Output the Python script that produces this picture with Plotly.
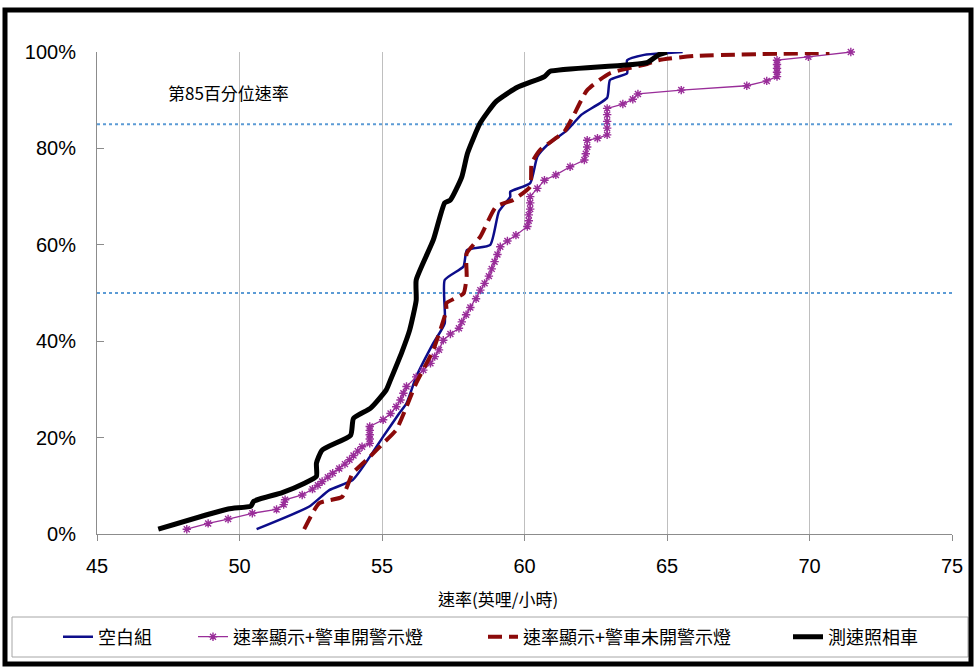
import plotly.graph_objects as go

# ---- data (speed mph, cumulative %) ----
blank_x = [50.6, 52.45, 53.15, 53.97, 54.57, 55.04, 55.6, 55.86, 56.2, 56.8, 57.2, 57.2, 57.86, 57.98,
           58.8, 59.1, 59.5, 59.5, 60.2, 60.45, 60.8, 61.5, 62.0, 62.9, 63.0, 63.6, 63.6, 64.2, 65.55]
blank_y = [1, 5.7, 9.1, 11.2, 16, 20.2, 25, 27.1, 32.6, 39.6, 43.7, 52.7, 55.5, 58.9,
           60, 66.9, 70, 71, 72.8, 78.3, 80.7, 83.8, 87, 90.5, 94.2, 95.6, 98.3, 99.4, 100]

lighton_x = [48.15, 48.9, 49.6, 50.45, 51.3, 51.55, 51.6, 52.2, 52.56, 52.75, 52.9, 53.1, 53.27, 53.5,
             53.7, 53.86, 54.0, 54.15, 54.3, 54.57, 54.57, 54.57, 54.57, 54.57, 55.04, 55.3, 55.5,
             55.65, 55.75, 55.86, 56.2, 56.45, 56.7, 56.85, 57.0, 57.15, 57.4, 57.7, 57.8, 57.95,
             58.1, 58.3, 58.45, 58.6, 58.75, 58.85, 58.95, 59.05, 59.15, 59.4, 59.7, 60.1, 60.15,
             60.15, 60.2, 60.2, 60.2, 60.45, 60.7, 61.1, 61.6, 62.1, 62.15, 62.2, 62.2, 62.56, 62.9,
             62.9, 62.9, 62.9, 62.9, 63.45, 63.8, 63.98, 65.5, 67.8, 68.5, 68.86, 68.86, 68.86,
             68.86, 68.86, 69.96, 71.45]
lighton_y = [1, 2.2, 3.1, 4.3, 5.1, 6.1, 7.1, 8.1, 9.3, 10.1, 10.9, 11.8, 12.6, 13.6,
             14.5, 15.4, 16.3, 17.2, 18.1, 18.8, 19.7, 20.6, 21.5, 22.3, 23.7, 25.0, 26.4,
             27.8, 29.2, 30.6, 32.6, 34.0, 35.4, 36.8, 38.2, 40.2, 41.5, 42.7, 44.0, 45.5,
             47.0, 48.8, 50.6, 52.0, 53.5, 55.0, 56.5, 58.0, 59.6, 60.8, 62.0, 63.8, 65.0,
             66.2, 67.4, 68.7, 70.0, 71.7, 73.4, 74.5, 76.2, 77.6, 78.9, 80.3, 81.7, 82.1, 82.8,
             84.2, 85.6, 87.0, 88.3, 89.2, 90.2, 91.3, 92.1, 93.0, 94.0, 94.9, 95.8, 96.6,
             97.4, 98.3, 99.0, 100]

lightoff_x = [52.27, 52.8, 53.6, 53.97, 54.57, 55.04, 55.5, 55.86, 56.2, 56.8, 57.26, 57.26, 57.86,
              57.97, 57.97, 58.45, 59.0, 59.6, 60.2, 60.25, 60.55, 61.4, 61.7, 62.2, 63.0, 64.3,
              64.7, 66.0, 70.7]
lightoff_y = [1, 6.4, 7.7, 12.6, 16, 18.8, 21.6, 26.4, 31.3, 38.2, 46.5, 47.9, 49.9,
              53.4, 58.2, 61.7, 67.9, 69.3, 72.1, 76.9, 79.7, 83.5, 86.6, 92.1, 95.6, 97.5,
              98.3, 99.2, 99.8]

camera_x = [47.15, 49.6, 50.4, 50.5, 51.5, 52.3, 52.7, 52.7, 52.9, 53.9, 54.0, 54.6, 55.15, 55.3,
            55.7, 55.97, 56.2, 56.2, 56.8, 57.2, 57.4, 57.8, 58.0, 58.45, 59.0, 59.75, 60.7, 60.9,
            64.3, 64.7, 65.0]
camera_y = [1, 5.2, 5.8, 6.8, 8.6, 10.6, 12, 14.7, 17.4, 20.5, 24, 26.1, 29.9, 32,
            37.8, 42.3, 48.5, 52.7, 61, 68.7, 69.3, 74.1, 79, 85.3, 89.7, 92.7, 94.9, 96,
            97.8, 99.4, 100]

series_names = ["空白組", "速率顯示+警車開警示燈", "速率顯示+警車未開警示燈", "測速照相車"]
ref_levels = [85, 50]
x_ticks = [45, 50, 55, 60, 65, 70, 75]
y_ticks = [0, 20, 40, 60, 80, 100]
y_ticktext = ["0%", "20%", "40%", "60%", "80%", "100%"]

CJK = "Noto Sans CJK TC"
LAT = "Liberation Sans"

fig = go.Figure()
fig.add_trace(go.Scatter(x=blank_x, y=blank_y, name=series_names[0], mode="lines",
                         line=dict(color="#0D0D8A", width=2.5, shape="spline", smoothing=0.5),
                         cliponaxis=False, legendwidth=90))
fig.add_trace(go.Scatter(x=lighton_x, y=lighton_y, name=series_names[1], mode="lines+markers",
                         line=dict(color="#992D99", width=1.3),
                         marker=dict(symbol="asterisk-open", size=7,
                                     line=dict(color="#992D99", width=1.4)),
                         cliponaxis=False, legendwidth=245))
fig.add_trace(go.Scatter(x=lightoff_x, y=lightoff_y, name=series_names[2], mode="lines",
                         line=dict(color="#8B0A0A", width=4, dash="14px,7px",
                                   shape="spline", smoothing=0.5),
                         cliponaxis=False, legendwidth=260))
fig.add_trace(go.Scatter(x=camera_x, y=camera_y, name=series_names[3], mode="lines",
                         line=dict(color="#000000", width=5, shape="spline", smoothing=0.5),
                         cliponaxis=False, legendwidth=100))

shapes = []
for lvl in ref_levels:
    shapes.append(dict(type="line", xref="paper", yref="y", x0=0, x1=1, y0=lvl, y1=lvl,
                       line=dict(color="#5B9BD5", width=2, dash="dot"), layer="below"))
# legend frame
shapes.append(dict(type="rect", xref="paper", yref="paper",
                   x0=(12 - 97) / 855, x1=(968 - 97) / 855,
                   y0=-(657 - 534) / 482, y1=-(617 - 534) / 482,
                   line=dict(color="#A6A6A6", width=1)))
# outer frame
shapes.append(dict(type="rect", xref="paper", yref="paper",
                   x0=(5 - 97) / 855, x1=(971 - 97) / 855,
                   y0=-(664 - 534) / 482, y1=(534 - 10) / 482,
                   line=dict(color="#000000", width=5)))

fig.update_layout(
    width=974, height=669,
    margin=dict(l=97, r=22, t=52, b=135),
    paper_bgcolor="white", plot_bgcolor="white",
    shapes=shapes,
    showlegend=True,
    legend=dict(orientation="h", x=(58 - 97) / 855, xanchor="left",
                y=-(637 - 534) / 482, yanchor="middle",
                font=dict(family=CJK, size=18, color="#000000"),
                bgcolor="rgba(0,0,0,0)", borderwidth=0, traceorder="normal"),
    annotations=[
        dict(text="速率(英哩/小時)", xref="paper", yref="paper",
             x=(498 - 97) / 855, y=-(598 - 534) / 482, xanchor="center", yanchor="middle",
             showarrow=False, font=dict(family=CJK, size=17, color="#000000")),
        dict(text="第85百分位速率", xref="paper", yref="paper",
             x=(166 - 97) / 855, y=(534 - 92) / 482, xanchor="left", yanchor="middle",
             showarrow=False, font=dict(family=CJK, size=17, color="#000000")),
    ],
)
fig.update_xaxes(range=[45, 75], tickvals=x_ticks, showgrid=True, gridcolor="#BFBFBF",
                 gridwidth=1, zeroline=False, showline=True, linecolor="#8C8C8C", linewidth=1,
                 ticks="outside", ticklen=6, tickcolor="#8C8C8C", ticklabelstandoff=8,
                 tickfont=dict(family=LAT, size=20, color="#000000"))
fig.update_yaxes(range=[0, 100], tickvals=y_ticks, ticktext=y_ticktext, showgrid=False,
                 zeroline=False, showline=True, linecolor="#8C8C8C", linewidth=1,
                 ticks="inside", ticklen=7, tickcolor="#8C8C8C", ticklabelstandoff=16,
                 tickfont=dict(family=LAT, size=20, color="#000000"))

fig.write_html("out.html")
